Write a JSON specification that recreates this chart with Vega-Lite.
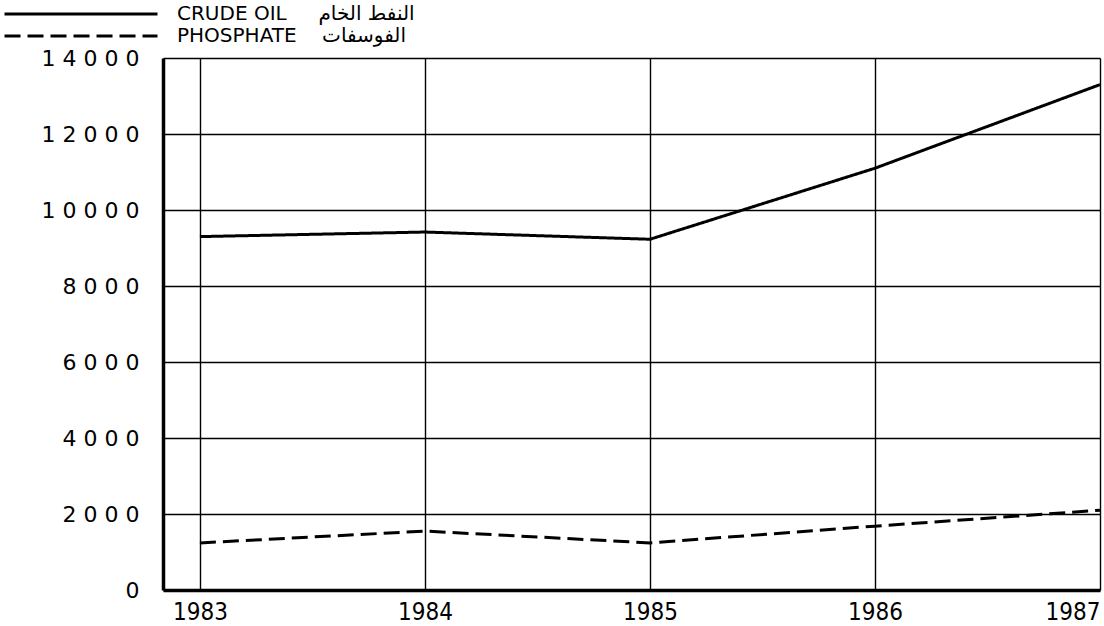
{
  "$schema": "https://vega.github.io/schema/vega-lite/v6.json",
  "width": 937,
  "height": 532,
  "autosize": {"type": "none"},
  "padding": {"left": 163, "top": 58, "right": 4, "bottom": 36},
  "background": "white",
  "config": {
    "view": {"stroke": null},
    "font": "DejaVu Sans Condensed"
  },
  "data": {
    "values": [
      {"year": 1983, "series": "CRUDE OIL", "value": 9300},
      {"year": 1984, "series": "CRUDE OIL", "value": 9420},
      {"year": 1985, "series": "CRUDE OIL", "value": 9230},
      {"year": 1986, "series": "CRUDE OIL", "value": 11100},
      {"year": 1987, "series": "CRUDE OIL", "value": 13300},
      {"year": 1983, "series": "PHOSPHATE", "value": 1240},
      {"year": 1984, "series": "PHOSPHATE", "value": 1550},
      {"year": 1985, "series": "PHOSPHATE", "value": 1240},
      {"year": 1986, "series": "PHOSPHATE", "value": 1680},
      {"year": 1987, "series": "PHOSPHATE", "value": 2100}
    ]
  },
  "mark": {"type": "line", "color": "black", "strokeWidth": 3},
  "encoding": {
    "x": {
      "field": "year",
      "type": "quantitative",
      "scale": {"domain": [1982.836, 1987], "nice": false, "zero": false},
      "axis": {
        "title": null,
        "values": [1983, 1984, 1985, 1986, 1987],
        "format": "d",
        "labelFontSize": 24,
        "labelColor": "black",
        "labelPadding": 10,
        "labelFlush": true,
        "ticks": false,
        "domainColor": "black",
        "domainWidth": 3.5,
        "grid": true,
        "gridColor": "black",
        "gridOpacity": 1,
        "gridWidth": 1.4
      }
    },
    "y": {
      "field": "value",
      "type": "quantitative",
      "scale": {"domain": [0, 14000], "nice": false},
      "axis": {
        "title": null,
        "values": [0, 2000, 4000, 6000, 8000, 10000, 12000, 14000],
        "labelExpr": "join(split(format(datum.value, 'd'), ''), ' ')",
        "labelFont": "DejaVu Sans",
        "labelFontSize": 22,
        "labelColor": "black",
        "labelPadding": 24,
        "ticks": false,
        "domainColor": "black",
        "domainWidth": 3.5,
        "grid": true,
        "gridColor": "black",
        "gridOpacity": 1,
        "gridWidth": 1.4
      }
    },
    "strokeDash": {
      "field": "series",
      "type": "nominal",
      "scale": {"domain": ["CRUDE OIL", "PHOSPHATE"], "range": [[1, 0], [16, 7]]},
      "legend": {
        "title": null,
        "orient": "none",
        "legendX": -92,
        "legendY": -54,
        "padding": 0,
        "symbolType": "M-10,0H10",
        "symbolSize": 234,
        "symbolStrokeWidth": 3,
        "symbolStrokeColor": "black",
        "labelFont": "DejaVu Sans",
        "labelFontSize": 20,
        "labelColor": "black",
        "labelOffset": 86,
        "labelLimit": 400,
        "rowPadding": 2,
        "labelExpr": "datum.label == 'CRUDE OIL' ? 'CRUDE OIL\u00a0\u00a0\u00a0\u00a0\u00a0النفط الخام' : 'PHOSPHATE\u00a0\u00a0\u00a0\u00a0الفوسفات'"
      }
    }
  }
}
